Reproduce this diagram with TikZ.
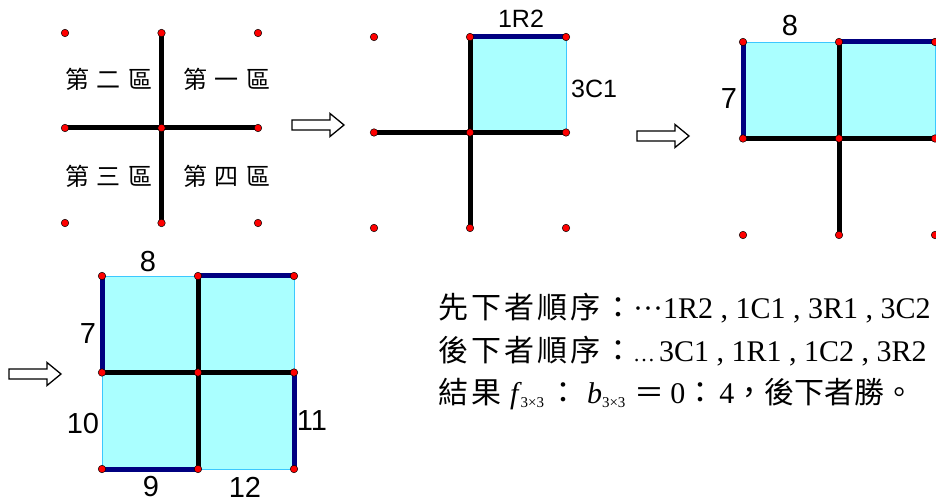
\documentclass[tikz,border=0pt]{standalone}
\usepackage{fontspec}
\setmainfont{Liberation Serif}
\setsansfont{Liberation Sans}
\newfontfamily\cjk{Noto Sans CJK TC}
\newfontfamily\cjkwide[LetterSpace=10]{Noto Sans CJK TC}

\definecolor{cellfill}{RGB}{170,255,255}
\definecolor{navyedge}{RGB}{0,0,128}
\definecolor{celledge}{RGB}{60,200,255}

% 3x3 lattice of points: #1 name prefix, (#2,#3) top-left, #4/#5 spacing
\newcommand\setgrid[5]{%
  \foreach \i in {0,1,2}{\foreach \j in {0,1,2}{%
    \coordinate (#1\i\j) at ({#2+#4*\i},{#3+#5*\j});}}}
\newcommand\griddots[1]{%
  \foreach \i in {0,1,2}{\foreach \j in {0,1,2}{%
    \node[dot] (#1dot\i\j) at (#1\i\j) {};}}}
\newcommand\subsize[1]{\raisebox{-4.5pt}{\fontsize{15}{15}\selectfont #1}}

\tikzset{
  bar/.style={line width=5pt, black},
  claimed/.style={line width=5pt, navyedge},
  open/.style={line width=0.8pt, celledge},
  cell/.style={fill=cellfill, draw=none},
  dot/.style={circle, fill=red, draw=black, line width=0.5pt, inner sep=0pt, minimum size=7.5pt},
  num/.style={font=\sffamily\fontsize{29}{29}\selectfont, inner sep=0pt},
  smallnum/.style={font=\sffamily\fontsize{25}{25}\selectfont, inner sep=0pt},
  zone/.style={font=\cjk\fontsize{24}{24}\selectfont, inner sep=0pt},
  line/.style={font=\fontsize{30}{30}\selectfont, inner sep=0pt, anchor=base west},
  hollow/.style={draw=black, fill=white, line width=1.3pt, line join=miter},
  blockarrow/.pic={\draw[hollow] (0,-5) -- (38,-5) -- (38,-11.5) -- (52,0)
    -- (38,11.5) -- (38,5) -- (0,5) -- cycle;},
}

\begin{document}
\begin{tikzpicture}[x=1pt, y=-1pt]
\useasboundingbox (0,0) rectangle (936,502);

\setgrid{A}{65}{33}{96.5}{95}
\setgrid{B}{374}{37}{96}{95.5}
\setgrid{C}{743}{42}{96}{96.5}
\setgrid{D}{102}{276}{96}{96.5}

% --- board 1: the four regions
\draw[bar] (A01) -- (A21);
\draw[bar] (A10) -- (A12);
\griddots{A}
\node[zone] (z2) at (108.5,79.5) {第\hspace{7.5pt}二\hspace{7.5pt}區};
\node[zone] (z1) at (226.5,79.5) {第\hspace{7.5pt}一\hspace{7.5pt}區};
\node[zone] (z3) at (109,176) {第\hspace{7.5pt}三\hspace{7.5pt}區};
\node[zone] (z4) at (226.5,176) {第\hspace{7.5pt}四\hspace{7.5pt}區};

\pic (arr1) at (292,125) {blockarrow};

% --- board 2
\fill[cell] (B10) rectangle (B21);
\draw[open] (B20) -- (B21);
\draw[claimed] (B10) -- (B20);
\draw[bar] (B01) -- (B21);
\draw[bar] (B10) -- (B12);
\griddots{B}
\node[smallnum] (l1R2) at (521,19) {1R2};
\node[smallnum, anchor=west] (l3C1) at (571,89) {3C1};

\pic (arr2) at (637,136) {blockarrow};

% --- board 3
\fill[cell] (C00) rectangle (C21);
\draw[open] (C00) -- (C10);
\draw[open] (C20) -- (C21);
\draw[claimed] (C00) -- (C01);
\draw[claimed] (C10) -- (C20);
\draw[bar] (C01) -- (C21);
\draw[bar] (C10) -- (C12);
\griddots{C}
\node[num] (c8) at (790,26) {8};
\node[num] (c7) at (729,99) {7};

% --- board 4
\pic (arr3) at (9,374) {blockarrow};
\fill[cell] (D00) rectangle (D22);
\draw[open] (D00) -- (D10);
\draw[open] (D20) -- (D21);
\draw[open] (D01) -- (D02);
\draw[open] (D12) -- (D22);
\draw[claimed] (D00) -- (D01);
\draw[claimed] (D10) -- (D20);
\draw[claimed] (D21) -- (D22);
\draw[claimed] (D02) -- (D12);
\draw[bar] (D01) -- (D21);
\draw[bar] (D10) -- (D12);
\griddots{D}
\node[num] (d8) at (148,262) {8};
\node[num] (d7) at (88,334) {7};
\node[num] (d10) at (83,424) {10};
\node[num] (d11) at (312,421) {11};
\node[num] (d9) at (151,486.5) {9};
\node[num] (d12) at (245,487.5) {12};

% --- move sequences and result
\node[line] (first) at (438,318) {{\cjkwide 先下者順序：}···1R2 , 1C1 , 3R1 , 3C2};
\node[line] (second) at (438,361) {{\cjkwide 後下者順序：}{\fontsize{22}{22}\selectfont …}\hspace{4pt}3C1 , 1R1 , 1C2 , 3R2};
\node[line] (result) at (438,403) {{\cjkwide 結果}\hspace{9pt}{\itshape f}\hspace{2pt}\subsize{3×3}\hspace{4pt}{\cjk ：}\hspace{9pt}{\itshape b}\subsize{3×3}\hspace{9pt}{\cjk ＝}\hspace{6pt}0{\cjk ：}\hspace{4pt}4{\cjk ，後下者勝。}};
\end{tikzpicture}
\end{document}
